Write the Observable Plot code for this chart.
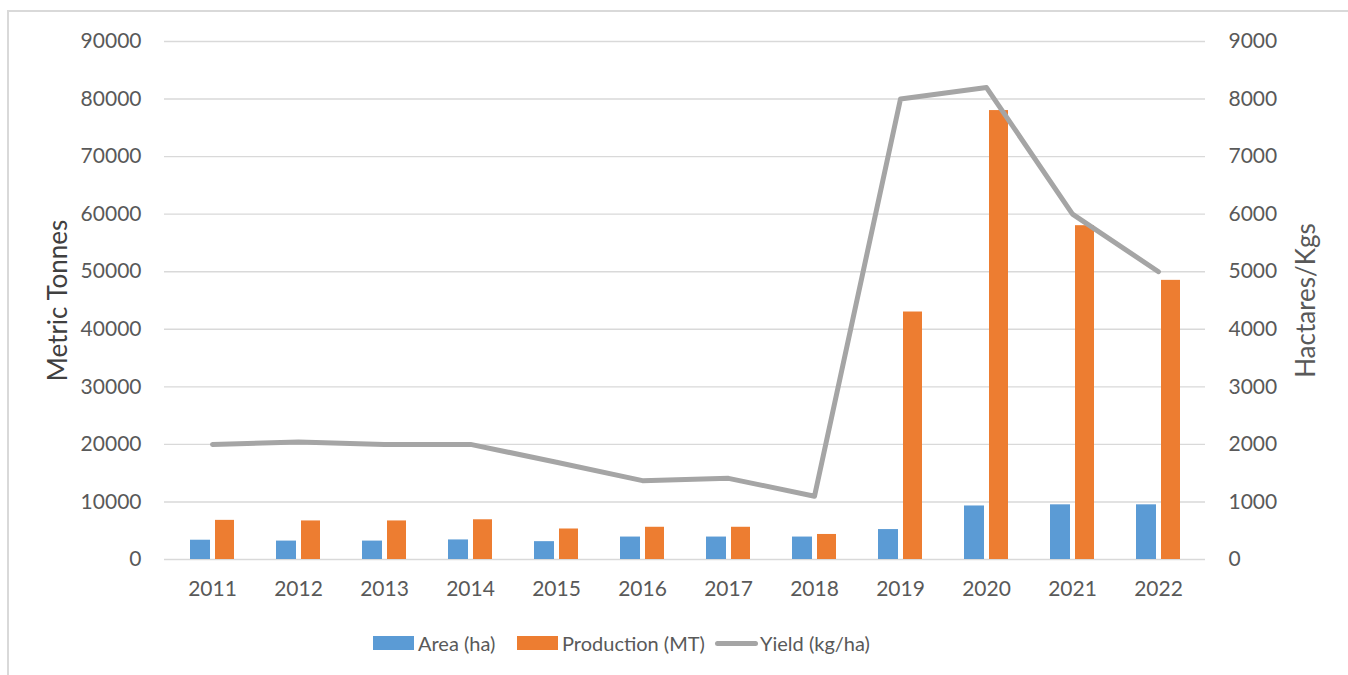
<!DOCTYPE html>
<html>
<head>
<meta charset="utf-8">
<script src="https://cdn.jsdelivr.net/npm/d3@7"></script>
<script src="https://cdn.jsdelivr.net/npm/@observablehq/plot@0.6"></script>
<style>
  html, body { margin: 0; padding: 0; background: #fff; }
  body { width: 1348px; height: 675px; position: relative; overflow: hidden; font-family: Lato, sans-serif; }
  #frame { position: absolute; left: 7px; top: 10px; width: 1400px; height: 700px;
           border-left: 2px solid #d9d9d9; border-top: 2px solid #d9d9d9; }
  #chart { position: absolute; left: 0; top: 0; }
  #chart g[aria-label="y-axis label"] text { font-size: 26px; }
  #legend { position: absolute; left: 0; top: 628px; width: 1348px; height: 30px; font-size: 20px; color: #595959; }
  .item { position: absolute; top: 0; display: flex; align-items: center; height: 30px; white-space: nowrap; }
  .swatch { width: 41px; height: 14px; margin-right: 4px; }
  .lineswatch { width: 43px; height: 5px; border-radius: 3px; background: #a5a5a5; margin-right: 2px; }
</style>
</head>
<body>
<div id="frame"></div>
<div id="chart"></div>
<div id="legend"></div>
<script>
// Crop statistics by year
const years = ["2011", "2012", "2013", "2014", "2015", "2016", "2017", "2018", "2019", "2020", "2021", "2022"];
const areaHa = [3350, 3200, 3200, 3400, 3100, 3900, 3900, 3900, 5200, 9300, 9500, 9500];
const productionMT = [6800, 6700, 6700, 6900, 5300, 5600, 5600, 4350, 43000, 78000, 58000, 48500];
const yieldKgHa = [2000, 2040, 2000, 2000, 1690, 1370, 1410, 1100, 8000, 8200, 6000, 5000];

const leftTicks = [0, 10000, 20000, 30000, 40000, 50000, 60000, 70000, 80000, 90000];
const rightTicks = [0, 1000, 2000, 3000, 4000, 5000, 6000, 7000, 8000, 9000];

const seriesNames = ["Area (ha)", "Production (MT)", "Yield (kg/ha)"];
const seriesColors = ["#5b9bd5", "#ed7d31", "#a5a5a5"];

// The right axis (kg/ha) shares the y scale at a 1:10 ratio with the left axis (MT)
const ratio = leftTicks[leftTicks.length - 1] / rightTicks[rightTicks.length - 1];

const rows = years.map((year, i) => ({
  year,
  area: areaHa[i],
  production: productionMT[i],
  yield: yieldKgHa[i]
}));

const chart = Plot.plot({
  width: 1348,
  height: 612,
  marginTop: 41,
  marginBottom: 53,
  marginLeft: 164,
  marginRight: 143,
  style: { fontFamily: "Lato, sans-serif", fontSize: "21px", color: "#595959", background: "transparent" },
  x: { type: "band", domain: years, paddingInner: 0.49, paddingOuter: 0.245 },
  y: { domain: [0, leftTicks[leftTicks.length - 1]] },
  marks: [
    Plot.gridY(leftTicks, { stroke: "#d9d9d9", strokeOpacity: 1, strokeWidth: 1.4 }),
    Plot.barY(rows, { x: "year", y: "area", fill: seriesColors[0], insetRight: 24 }),
    Plot.barY(rows, { x: "year", y: "production", fill: seriesColors[1], insetLeft: 25 }),
    Plot.line(rows, {
      x: "year", y: d => d.yield * ratio,
      stroke: seriesColors[2], strokeWidth: 5, strokeLinecap: "round", strokeLinejoin: "round"
    }),
    Plot.axisX({ tickSize: 0, tickPadding: 22, label: null }),
    Plot.axisY({
      anchor: "left", ticks: leftTicks, tickFormat: d3.format("d"), tickSize: 0, tickPadding: 23,
      label: "Metric Tonnes", labelAnchor: "center", labelArrow: "none", labelOffset: 116
    }),
    Plot.axisY({
      anchor: "right", ticks: leftTicks, tickFormat: d => d3.format("d")(d / ratio), tickSize: 0, tickPadding: 23,
      label: "Hactares/Kgs", labelAnchor: "center", labelArrow: "none", labelOffset: 109
    })
  ]
});
document.getElementById("chart").appendChild(chart);

// Left axis title is set a shade darker than the tick labels
const titles = chart.querySelectorAll('g[aria-label="y-axis label"] text');
if (titles.length) titles[0].setAttribute("fill", "#404040");

// Legend under the chart
const legend = document.getElementById("legend");
const lefts = [373, 517, 715];
seriesNames.forEach((name, i) => {
  const item = document.createElement("div");
  item.className = "item";
  item.style.left = lefts[i] + "px";
  const sw = document.createElement("div");
  sw.className = i === 2 ? "lineswatch" : "swatch";
  if (i < 2) sw.style.background = seriesColors[i];
  const label = document.createElement("span");
  label.textContent = name;
  item.appendChild(sw);
  item.appendChild(label);
  legend.appendChild(item);
});
</script>
</body>
</html>
